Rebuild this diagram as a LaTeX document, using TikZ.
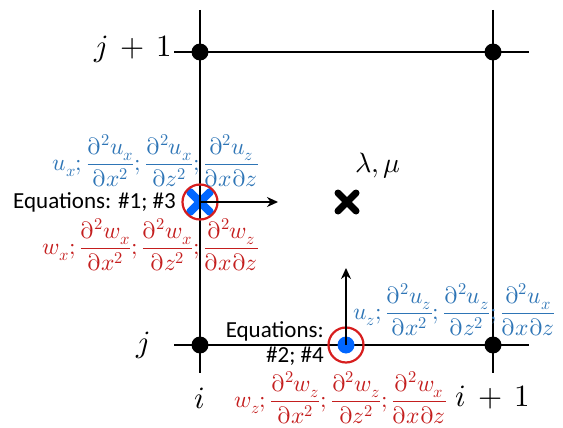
\documentclass[tikz,border=0pt]{standalone}
\usepackage{fontspec}
\usepackage{amsmath}
\usepackage[partial=upright]{unicode-math}
\setmathfont{Latin Modern Math}
\setsansfont{Carlito}
\usetikzlibrary{arrows.meta,calc}
\definecolor{tblue}{RGB}{46,117,182}
\definecolor{tred}{RGB}{196,30,30}
\definecolor{dotblue}{RGB}{0,102,255}
\definecolor{circred}{RGB}{215,30,30}
\begin{document}
\begin{tikzpicture}[x=1pt,y=-1pt,
  grid/.style={line width=1.6pt},
  gdot/.style={circle,fill=black,inner sep=0pt,minimum size=17pt},
  idx/.style={font=\fontsize{31}{35}\selectfont},
  eqtext/.style={font=\sffamily\fontsize{23}{26}\selectfont,inner sep=0pt},
  der/.style={font=\fontsize{23.5}{28}\selectfont,inner sep=0pt},
  arr/.style={line width=2pt,-{Stealth[length=11pt,width=10pt]}},
  ring/.style={circle,draw=circred,line width=2.2pt,minimum size=35pt,inner sep=0pt},
  bdot/.style={circle,fill=dotblue,inner sep=0pt,minimum size=17pt}]
\useasboundingbox (0,0) rectangle (563,428);
% grid coordinates
\coordinate (A) at (200,52);
\coordinate (B) at (493,52);
\coordinate (C) at (200,345);
\coordinate (D) at (493,345);
\coordinate (Lt) at (200,10);
\coordinate (Lb) at (200,373);
\coordinate (Rt) at (493,10);
\coordinate (Rb) at (493,373);
\coordinate (Tl) at (174,52);
\coordinate (Tr) at (529,52);
\coordinate (Bl) at (174,345);
\coordinate (Br) at (529,345);
\coordinate (U) at (200,202);
\coordinate (W) at (346,345);
\coordinate (Uend) at (278,202);
\coordinate (Wend) at (346,268);
\coordinate (M) at (347,202);
% blue cross
\draw[dotblue,line width=8pt,line cap=round] ($(U)+(-10,-10)$) -- ($(U)+(10,10)$);
\draw[dotblue,line width=8pt,line cap=round] ($(U)+(-10,10)$) -- ($(U)+(10,-10)$);
% black cross
\draw[black,line width=7pt,line cap=round] ($(M)+(-9,-9)$) -- ($(M)+(9,9)$);
\draw[black,line width=7pt,line cap=round] ($(M)+(-9,9)$) -- ($(M)+(9,-9)$);
% grid
\draw[grid] (Lt) -- (Lb);
\draw[grid] (Rt) -- (Rb);
\draw[grid] (Tl) -- (Tr);
\draw[grid] (Bl) -- (Br);
\node[gdot] (nA) at (A) {};
\node[gdot] (nB) at (B) {};
\node[gdot] (nC) at (C) {};
\node[gdot] (nD) at (D) {};
\node[bdot] (nW) at (W) {};
\node[ring] (rU) at (U) {};
\node[ring] (rW) at (W) {};
\draw[arr] (U) -- (Uend);
\draw[arr] (W) -- (Wend);
% index labels
\node[idx,anchor=east,inner sep=1pt] (j1) at (173,49) {$j\,+\,1$};
\node[idx] (j) at (143,345) {$j$};
\node[idx] (i) at (200,398) {$i$};
\node[idx] (i1) at (493,397) {$i\,+\,1$};
\node[font=\fontsize{28}{32}\selectfont] (lm) at (378,166) {$\lambda,\mu$};
% equations
\node[eqtext,anchor=east] (e1) at (176,202) {Equations: \#1; \#3};
\node[eqtext,anchor=east] (e2) at (324,331) {Equations:};
\node[eqtext,anchor=east] (e3) at (324,356) {\#2; \#4};
% derivative labels
\node[der,text=tblue,anchor=east] (ux) at (259,161) {$u_x;\dfrac{\partial^2u_x}{\partial x^2};\dfrac{\partial^2u_x}{\partial z^2};\dfrac{\partial^2u_z}{\partial x\partial z}$};
\node[der,text=tred,anchor=east] (wx) at (259,245) {$w_x;\dfrac{\partial^2w_x}{\partial x^2};\dfrac{\partial^2w_x}{\partial z^2};\dfrac{\partial^2w_z}{\partial x\partial z}$};
\node[der,text=tblue,anchor=west] (uz) at (353,310) {$u_z;\dfrac{\partial^2u_z}{\partial x^2};\dfrac{\partial^2u_z}{\partial z^2};\dfrac{\partial^2u_x}{\partial x\partial z}$};
\node[der,text=tred,anchor=west] (wz) at (234,398) {$w_z;\dfrac{\partial^2w_z}{\partial x^2};\dfrac{\partial^2w_z}{\partial z^2};\dfrac{\partial^2w_x}{\partial x\partial z}$};
\end{tikzpicture}
\end{document}
